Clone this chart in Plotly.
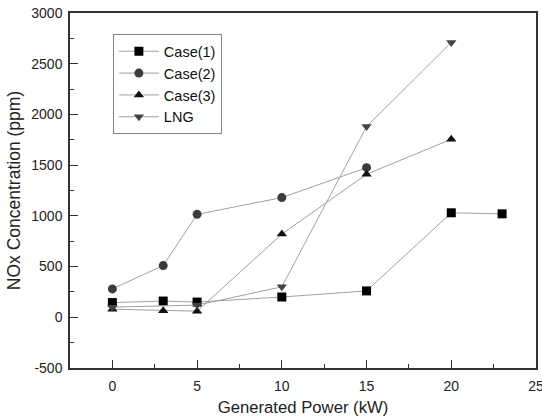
import plotly.graph_objects as go

case1_x = [0, 3, 5, 10, 15, 20, 23]
case1_y = [145, 160, 150, 200, 260, 1030, 1020]
case2_x = [0, 3, 5, 10, 15]
case2_y = [280, 510, 1015, 1180, 1475]
case3_x = [0, 3, 5, 10, 15, 20]
case3_y = [80, 65, 60, 820, 1410, 1755]
lng_x = [0, 5, 10, 15, 20]
lng_y = [100, 120, 300, 1880, 2710]

x_ticks = [0, 5, 10, 15, 20, 25]
y_ticks = [-500, 0, 500, 1000, 1500, 2000, 2500, 3000]
y_ticktext = ["-500", "0", "500", "1000", "1500", "2000", "2500", "3000"]

series = [
    ("Case(1)", case1_x, case1_y, "square", "#000000"),
    ("Case(2)", case2_x, case2_y, "circle", "#3c3c3c"),
    ("Case(3)", case3_x, case3_y, "triangle-up", "#111111"),
    ("LNG", lng_x, lng_y, "triangle-down", "#444444"),
]

fig = go.Figure()
for name, xs, ys, sym, col in series:
    fig.add_trace(go.Scatter(
        x=xs, y=ys, name=name, mode="lines+markers",
        line=dict(color="#a0a0a0", width=1),
        marker=dict(symbol=sym, size=9, color=col, line=dict(width=0)),
    ))

font = "Liberation Sans, Arial, sans-serif"
fig.update_layout(
    width=542, height=420,
    margin=dict(l=70, r=6, t=13, b=52),
    plot_bgcolor="white", paper_bgcolor="white",
    font=dict(family=font, size=14, color="#222"),
    showlegend=True,
    legend=dict(x=0.092, y=0.94, xanchor="left", yanchor="top",
                bordercolor="#888", borderwidth=1, bgcolor="white",
                font=dict(size=14.5, color="#111"), itemwidth=40,
                tracegroupgap=0),
    xaxis=dict(range=[-2.5, 25], tickvals=x_ticks,
               ticks="inside", ticklen=8, tickcolor="#333",
               minor=dict(ticks="inside", ticklen=4, dtick=2.5, tick0=0, tickcolor="#333"),
               showline=True, linecolor="#333", linewidth=1.5, mirror=True,
               showgrid=False, zeroline=False, automargin=False,
               ticklabelstandoff=4, ticklabeloverflow="allow",
               title=dict(text="Generated Power (kW)", font=dict(size=16.7), standoff=9)),
    yaxis=dict(range=[-500, 3000], tickvals=y_ticks, ticktext=y_ticktext,
               ticks="inside", ticklen=8, tickcolor="#333",
               minor=dict(ticks="inside", ticklen=4, dtick=250, tick0=0, tickcolor="#333"),
               showline=True, linecolor="#333", linewidth=1.5, mirror=True,
               showgrid=False, zeroline=False, automargin=False,
               ticklabelstandoff=3, ticklabeloverflow="allow",
               title=dict(text="NOx Concentration (ppm)", font=dict(size=17.5), standoff=6)),
)

fig.write_html("out.html", config={"displayModeBar": False},
               post_script="document.body.style.margin='0';")
